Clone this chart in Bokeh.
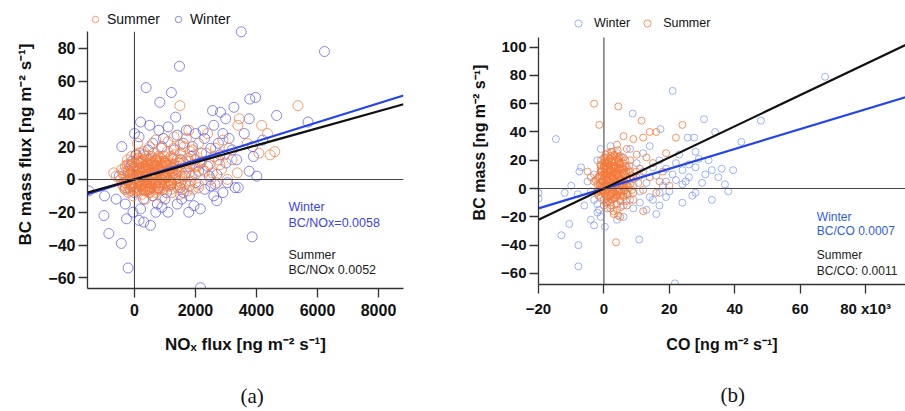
from bokeh.plotting import figure
from bokeh.layouts import row
from bokeh.models import Span, Label, Legend, LegendItem, FixedTicker, Title
from bokeh.embed import file_html
from bokeh.resources import INLINE

# ---------------- Panel (a): BC vs NOx flux ----------------
nox_winter_x = [3500, 6230, 1475, 380, 1210, 830, 3780, 3970, 4660, 5690, 3260, 3760, 2560, 2820, 2990, 3900, 3870, 3760, 4010, -415,
                0, 150, -1500, -100, -80, 3300, 3400, 2640, -980, -1000, -840, -430, -210, -260, -300, 305, 525, 700, 900, 1780,
                2160, 2700, 2900, 3860, 2165, 200, 500, 800, 1100, 1400, 1700, 2000, 2300, 2600, 2900, 3100, 600, 900, 1300, 1600,
                1900, 2200, 2500, 2800, 3200, 300, 700, 1000, 1500, 1800, 2100, 2400, 2700, 3000, -200, 100, 400, 800, 1200, 1600,
                2000, 2300, 2600, -300, 0, 300, 600, 1000, 1400, 1800, 200, 500, 1100, 1500, 2500, -100, -500, 50, 350, 650,
                950, 1250, 1550, 1850, 2150, 2450, 2750, 3050, 3350, 3600, 4200, 450, 750, 1050, 1350, 1650, 1950, 2250, -600, -50, 150]
nox_winter_y = [90, 78, 69, 56, 53, 47, 49, 50, 39, 35, 44, 37, 42, 41, 37, 14, 20, 5, 2, 20,
                28, 26, -7, 9, 11, -5, -5, -3, -10, -22, -33, -39, -54, -24, -15, -26, -28, -20, -17, -20,
                -18, -13, -8, -35, -66, 35, 33, 30, 32, 27, 30, 28, 25, 33, 28, 25, 22, 20, 18, 22,
                20, 16, 19, 15, 18, 15, 12, 10, 12, 8, 5, 8, 3, 10, 5, 3, -2, -5, -3, -8,
                -2, -6, -10, -5, -8, -12, -10, -12, -15, -10, -18, -6, -20, -5, -4, -3, 2, 15, 8, 4,
                25, 5, -12, 14, 10, 2, 22, -2, 12, 28, 24, 18, -15, -8, 38, 2, -16, 30, -12, -20, -25]

nox_summer_x = [1490, 5360, 3440, 3390, 4170, 4360, 4450, 4600, 4080, 3370, -680, -600, 360, 600, 1780, 1700, 2400, 2100, 2900, 3100,
                3700, 2600, 2800, 3200, 2300, 2000, 1900, 1500, 1300, 1100, 900, 700, 500, 300, 100, -100, -300, -450, -350, -200,
                -50, 100, 250, 400, 700, 900, 1200, 1500, 1800, 2100, 2500, 2700,
                0, 50, 100, 150, 200, 250, 300, 350, 400, 450, 500, 550, 600, 650, 700, 750, 800, 850, 900, 950,
                1000, 1050, 1100, 1150, 1200, 1250, 1300, 1350, 1400, 1450, 1500, 1550, 1600, 1650, 1700, 1750, 1800, 1850, 1900, 1950,
                2000, 2050, 2100, 2200, 2250, 2350, 2450, 2550, 2650, 2750, 2850, 2950, 3050,
                -50, -150, -250, -100, 20, 80, 130, 180, 230, 280, 330, 380, 430, 480, 530, 580, 630, 680, 730, 780,
                830, 880, 930, 980, 1030, 1080, 1130, 1180, 1230, 1280, 1330, 1380, 1430, 1480, 1530, 1580, 1630, 1680, 1730, 1780,
                1830, 1880, 1930, 1980,
                60, 110, 160, 210, 260, 310, 360, 410, 460, 510, 560, 610, 660, 710, 760, 810, 860, 910, 960, 1010,
                1060, 1110, 1160, 1210, 1260, 1310, 1360, 1410, 1460, 1510,
                -400, -350, -300, -250, -200, -150, -100, -50, 0, 50, 100, 150, 200, 250, 300, 350, 400, 450, 500, 550,
                600, 650, 700, 750, 800, 850, 900, 950, 1000, 1100, 1200, 1300,
                -380, -280, -180, -80, 20, 120, 220, 320, 420, 520, 620, 720, 820, 920, 1020, 1120, 1220,
                -320, -220, -120, -20, 80, 180, 280, 380, 480, 580, 680,
                -260, -160, -60, 40, 140, 240, 340, 440, 540, 640, 740, 840, 940, 1040, 1140, 1240,
                -240, -140, -40, 60, 160, 260, 360, 460, 560, 660, 760, 860, 960, 1060, 1160, 1260, 1360, 1460,
                -420, -330, -230, -130, -30, 70, 170, 270, 370, 470, 570, 670, 770, 870, 970, 1070]
nox_summer_y = [45, 45, 37, 33, 33, 28, 15, 17, 16, 4, 4, 2, -12, -10, 30, 25, 28, 22, 24, 19,
                22, 14, 9, 12, 5, 12, 18, 21, 26, 23, 19, 24, 20, 17, 22, 14, 8, 0, -4, -8,
                -10, -6, -9, -7, -8, -11, -6, -9, -4, -3, 0, -2,
                0, 3, 5, -2, 2, 7, 0, 4, 9, -3, 6, 1, 11, 3, -2, 8, 5, 13, 0, 7,
                2, 10, -1, 6, 14, 3, 9, 0, 12, 5, 16, 2, 10, -3, 7, 13, 4, -1, 9, 15,
                3, 8, -5, 11, 6, 16, 9, 4, 19, 12, 6, 15, 0,
                6, 3, -1, -4, -5, 9, 13, 16, -4, 12, -6, 14, 10, -2, 13, -5, 16, 6, 12, -4,
                1, 9, -6, 14, 5, 17, -4, 9, -8, 19, 4, -3, 8, 1, 12, -6, 20, 4, -7, 11,
                17, 2, -6, 8,
                -1, 1, 7, 10, -6, 5, 2, -4, 7, -8, 4, 0, 9, 2, -6, 10, -2, 4, 11, -3,
                1, 12, 3, -2, 7, 15, 6, -5, 10, -2,
                -3, 2, -6, 5, 0, 8, -4, 3, 7, -7, 1, 10, -3, 4, 12, -5, 2, 6, -1, 9,
                3, -6, 11, 0, 6, -3, 8, 2, -4, 4, 7, 1,
                4, -2, 9, 1, -3, 6, 11, -1, 5, -5, 8, 3, -2, 10, 1, 6, -3,
                -6, -1, 4, 10, -7, 2, 8, -4, 12, 0, -2,
                1, -5, 7, -3, 11, 4, -7, 9, 2, -2, 13, -6, 5, 10, -1, 7,
                9, 3, -6, 12, 0, -3, 6, -8, 14, 4, -5, 11, 2, 8, -4, 13, 3, -1,
                6, -2, 12, -7, 3, 15, -4, 7, 1, -6, 10, -3, 14, 6, -2, 9]

nox_x_ticks = [0, 2000, 4000, 6000, 8000]
bc_a_ticks = [-60, -40, -20, 0, 20, 40, 60, 80]
slope_winter_nox = 0.0058
slope_summer_nox = 0.0052

# ---------------- Panel (b): BC vs CO (x in 10^3 ng m-2 s-1) ----------------
co_winter_x = [-14.7, 21, 8.8, 30.6, 17.3, 25.6, 27.6, 34, 42, 39.5, 37, 67.6, 48, 28, 31, 29, 33, 26, 24, 22,
               -7, -7.5, -20, -12, -20, -13, -10.6, -7.8, -7.8, 0.3, 10.8, 16, 21.7, 33, 28, 24, 19, 17, -2, -1,
               -1.5, 4, -2, -5, -4, -3, -2, -1, 0, 1, 2, 3, 5, 6, 7, 8, 9, 10, 11, 12,
               13, 14, 15, 16, 17, 18, 19, 20, 21, 22, 23, 24, 25, 26, 27, 28, 30, 32, 35, 36,
               38, 2, 4, 6, 8, 10, 12, 14, -3, -6, -8, -10, 1, 3, 5, 7, 9, 11, 13, 15,
               17, 19, -4, -3, 6]
co_winter_y = [35, 69, 53, 49, 42, 36, 36, 40, 33, 13, 3, 79, 48, 15, 10, 21, 13, 8, 3, 6,
               15, 12, -3, -3, -7, -33, -25, -40, -55, -27, -36, -18, -67, -8, -3, -10, -6, -3, -11, -20,
               -15, -22, -17, 5, -2, 10, 20, 28, -8, -10, -14, -6, -9, -12, -4, -8, 2, 8, -2, 12,
               4, -6, 15, 9, 20, 2, 14, -2, 10, 18, 24, 13, 5, 17, -5, 26, 4, 20, 8, 14,
               -2, 30, 25, 22, 28, 18, 25, 30, -8, -12, -4, 2, 5, 12, 3, 15, -14, -10, -15, -8,
               -12, 5, -22, -26, -20]

co_summer_x = [-3, 4.4, -1.4, 11.5, 24, 22, 14, 16, 12, 9, 6, 4, 7, -5, -4, 17, 12, 20, 3.7, 4,
               5, 3, 12, -3, -2, 10, 13, 15, 18, 19, 8, 11, 14, 16, 9, 7, 2, -1, 0, 6,
               0, 0.5, 1, 1.5, 2, 2.5, 3, 3.5, 4, 4.5, 5, 5.5, 6, 6.5, 7, 7.5, 8, 8.5, 9, -0.5,
               -1, -1.5, -2, 0.2, 0.8, 1.3, 1.8, 2.3, 2.8, 3.3, 3.8, 4.3, 4.8, 5.3, 5.8, 6.3, 6.8, 7.3, 7.8, 0.3,
               0.9, 1.4, 1.9, 2.4, 2.9, 3.4, 4.9, 5.9, 0.1, 0.6, 1.1, 1.6, 2.1, 2.6, 3.1, 3.6, 4.1, 4.6, 5.1, 5.6,
               6.1, 6.6, 7.1, 7.6, 8.1, 8.6, 9.2, 9.8, 10.5, 11, -0.3, -0.8, -1.2, -1.7, 0.4, 1.2, 2.2, 3.2, 4.2, 0.7,
               1.7, 2.7, 3.7, 4.7, 5.7, 6.7, 0.2, 1.0, 2.0, 3.0, 4.0, 5.0, 6.0, 7.0, 8.0, 0.5, 1.5, 2.5, 3.5, 4.5,
               5.5, 6.5, -1.0, -2.5, 0.6, 2.2, 3.9, 5.2, 6.8, 1.0, 3.0, 4.4,
               -2, -1.6, -1.2, -0.8, -0.4, 0, 0.4, 0.8, 1.2, 1.6, 2, 2.4, 2.8, 3.2, 3.6, 4, 4.4, 4.8, 5.2, 5.6,
               6, 6.4, 6.8, -1.8, -1.4, -1, -0.6, -0.2, 0.2, 0.6, 1, 1.4, 1.8, 2.2, 2.6, 3, 3.4, 3.8, 4.2, 4.6,
               5, 5.4, 5.8, 6.2, -0.9, 0.1, 1.1, 2.1, 3.1, 4.1, 5.1, 0.5, 1.5, 2.5, 3.5, 4.5,
               -1.3, -0.7, -0.1, 0.5, 1.1, 1.7, 2.3, 2.9, 3.5, 4.1, 4.7, 5.3,
               -1.1, -0.5, 0.1, 0.7, 1.3, 1.9, 2.5, 3.1, 3.7, 4.3, 4.9, 5.5,
               -0.9, -0.3, 0.3, 0.9, 1.5, 2.1, 2.7, 3.3, 3.9, 4.5]
co_summer_y = [60, 58, 45, 48, 45, 36, 40, 40, 36, 35, 37, 31, 28, 12, 8, 5, -1, 2, -38, -15,
               -20, -18, -16, 5, -3, 24, 22, 18, 12, 25, 20, 14, 8, -3, -8, -12, -10, -6, -12, -6,
               0, 3, 6, -2, 9, 1, 12, 4, -4, 8, 15, 2, 10, -1, 6, 13, 3, 9, -3, 5,
               1, 9, -2, 14, 18, 11, 21, 16, 7, 19, -6, 14, 23, -3, 18, 5, 12, -4, 16, -4,
               -7, -9, -5, -8, -3, -7, -8, -5, 8, 11, 2, 13, 4, 20, 6, 10, 1, 17, 6, 11,
               -2, 20, 8, 1, 12, -1, 7, 12, 4, 9, -1, 12, 4, -5, 22, 25, 26, 24, 27, -1,
               1, -1, 2, -2, 1, 3, 4, 10, 13, 9, 5, 11, 14, 2, 7, 16, 19, 14, 16, 20,
               22, 16, 16, 6, -10, -12, -11, -13, -9, -14, -16, -19,
               3, 8, -2, 12, 5, 16, 1, 9, 18, 4, 13, -4, 7, 15, 2, 10, 19, -1, 6, 14,
               3, 11, -3, 7, -1, 14, 2, 10, 18, -5, 6, 12, 21, 0, 9, 16, 3, 11, -2, 8,
               17, 4, 13, 1, 20, 22, -6, 23, -7, 21, -5, 24, 17, 26, 15, 22,
               2, 9, 15, -3, 6, 12, 19, 1, 8, -5, 14, 4,
               17, 5, 11, -1, 20, 7, 2, 14, -4, 10, 18, 6,
               12, -2, 19, 7, 16, -5, 11, 23, 3, 9]

co_x_ticks = [-20, 0, 20, 40, 60, 80]
bc_b_ticks = [-60, -40, -20, 0, 20, 40, 60, 80, 100]
slope_winter_co = 0.7   # BC/CO 0.0007 with CO in 10^3 units
slope_summer_co = 1.1   # BC/CO 0.0011 with CO in 10^3 units

FONT = "Liberation Sans"
ORANGE = "#f4793b"
BLUE_A = "#4646e6"
BLUE_B = "#6a8cee"


def style_axes(p, tick_size, label_size, y_lo, y_hi):
    for ax in (p.xaxis[0], p.yaxis[0]):
        ax.major_label_text_font = FONT
        ax.major_label_text_font_style = "bold"
        ax.major_label_text_font_size = tick_size
        ax.major_label_text_color = "#111111"
        ax.axis_label_text_font = FONT
        ax.axis_label_text_font_style = "bold"
        ax.axis_label_text_font_size = label_size
        ax.axis_label_text_color = "#111111"
        ax.axis_line_color = "#333333"
        ax.axis_line_width = 1.3
        ax.major_tick_line_color = "#333333"
        ax.major_tick_line_width = 1.3
        ax.major_tick_in = 0
        ax.major_tick_out = 9
        ax.minor_tick_line_color = None
    p.yaxis[0].bounds = (y_lo, y_hi)
    p.xaxis[0].major_label_standoff = 6
    p.yaxis[0].major_label_standoff = 3
    p.xaxis[0].axis_label_standoff = 16
    p.yaxis[0].axis_label_standoff = 10
    p.xgrid.grid_line_color = None
    p.ygrid.grid_line_color = None
    p.outline_line_color = None
    # zero reference lines
    p.segment(x0=[0], y0=[y_lo], x1=[0], y1=[y_hi], line_color="#444444", line_width=1.1)
    p.add_layout(Span(location=0, dimension="width", line_color="#444444", line_width=1.1))


def caption(p, text, offset, standoff):
    p.title = Title(text=text, align="left", offset=offset, standoff=standoff,
                    text_font="Liberation Serif", text_font_style="normal",
                    text_font_size="21px", text_color="#111111")
    p.title_location = "below"


# ----- figure (a) -----
xa0, xa1 = -1540, 8820
ya0, ya_axis_top, ya1 = -66.5, 90, 109.1
p1 = figure(frame_width=316, frame_height=288, min_border_left=87, min_border_right=47,
            min_border_top=0, min_border_bottom=123,
            x_range=(xa0, xa1), y_range=(ya0, ya1),
            output_backend="svg", toolbar_location=None)
p1.xaxis.ticker = FixedTicker(ticks=nox_x_ticks)
p1.yaxis.ticker = FixedTicker(ticks=bc_a_ticks)
p1.xaxis.axis_label = "NOₓ flux [ng m⁻² s⁻¹]"
p1.yaxis.axis_label = "BC mass flux [ng m⁻² s⁻¹]"
style_axes(p1, "16px", "17px", ya0, ya_axis_top)
caption(p1, "(a)", 153, 50)

rw1 = p1.scatter(nox_winter_x, nox_winter_y, marker="circle", size=10, fill_color=None,
                 line_color=BLUE_A, line_alpha=0.65, line_width=1)
rs1 = p1.scatter(nox_summer_x, nox_summer_y, marker="circle", size=10, fill_color=None,
                 line_color=ORANGE, line_alpha=0.75, line_width=1)
p1.line([xa0, xa1], [slope_winter_nox * xa0, slope_winter_nox * xa1], line_color="#2244ee", line_width=2.2)
p1.line([xa0, xa1], [slope_summer_nox * xa0, slope_summer_nox * xa1], line_color="#111111", line_width=2.2)

leg1 = Legend(items=[LegendItem(label="Summer", renderers=[rs1]), LegendItem(label="Winter", renderers=[rw1])],
              orientation="horizontal", location=(0, 260), padding=0, margin=0, spacing=10,
              glyph_width=16, glyph_height=18, label_standoff=4, label_height=18,
              label_text_font=FONT, label_text_font_size="14px", label_text_color="#111111",
              border_line_color=None, background_fill_alpha=0)
p1.add_layout(leg1)

for txt, yy, col in [("Winter", -17.1, "#3b44e6"), ("BC/NOx=0.0058", -26.8, "#3b44e6"),
                     ("Summer", -46.3, "#222222"), ("BC/NOx 0.0052", -55.5, "#222222")]:
    p1.add_layout(Label(x=5050, y=yy, text=txt, text_font=FONT, text_font_size="12.5px",
                        text_color=col, text_baseline="middle", text_align="left"))

# ----- figure (b) -----
xb0, xb1 = -20, 92.2
yb0, yb_axis_top, yb1 = -67.8, 106.7, 132.9
p2 = figure(frame_width=367, frame_height=284, min_border_left=88, min_border_right=0,
            min_border_top=0, min_border_bottom=127,
            x_range=(xb0, xb1), y_range=(yb0, yb1),
            output_backend="svg", toolbar_location=None)
p2.xaxis.ticker = FixedTicker(ticks=co_x_ticks)
p2.yaxis.ticker = FixedTicker(ticks=bc_b_ticks)
p2.xaxis.major_label_overrides = {80: "80 x10³"}
p2.xaxis.axis_label = "CO [ng m⁻² s⁻¹]"
p2.yaxis.axis_label = "BC mass [ng m⁻² s⁻¹]"
style_axes(p2, "15px", "16px", yb0, yb_axis_top)
caption(p2, "(b)", 182, 50)

rw2 = p2.scatter(co_winter_x, co_winter_y, marker="circle", size=7, fill_color=None,
                 line_color=BLUE_B, line_alpha=0.65, line_width=1)
rs2 = p2.scatter(co_summer_x, co_summer_y, marker="circle", size=7, fill_color=None,
                 line_color=ORANGE, line_alpha=0.8, line_width=1)
p2.line([xb0, xb1], [slope_winter_co * xb0, slope_winter_co * xb1], line_color="#2244ee", line_width=2.2)
p2.line([xb0, xb1], [slope_summer_co * xb0, slope_summer_co * xb1], line_color="#111111", line_width=2.2)

leg2 = Legend(items=[LegendItem(label="Winter", renderers=[rw2]), LegendItem(label="Summer", renderers=[rs2])],
              orientation="horizontal", location=(31, 252), padding=0, margin=0, spacing=8,
              glyph_width=18, glyph_height=18, label_standoff=7, label_height=18,
              label_text_font=FONT, label_text_font_size="12.5px", label_text_color="#111111",
              border_line_color=None, background_fill_alpha=0)
p2.add_layout(leg2)

for txt, yy, col in [("Winter", -19.8, "#2f5de0"), ("BC/CO 0.0007", -29.7, "#2f5de0"),
                     ("Summer", -47.3, "#222222"), ("BC/CO: 0.0011", -58.0, "#222222")]:
    p2.add_layout(Label(x=65.1, y=yy, text=txt, text_font=FONT, text_font_size="12px",
                        text_color=col, text_baseline="middle", text_align="left"))

layout = row(p1, p2)
open("out.html", "w").write(file_html(layout, INLINE))
